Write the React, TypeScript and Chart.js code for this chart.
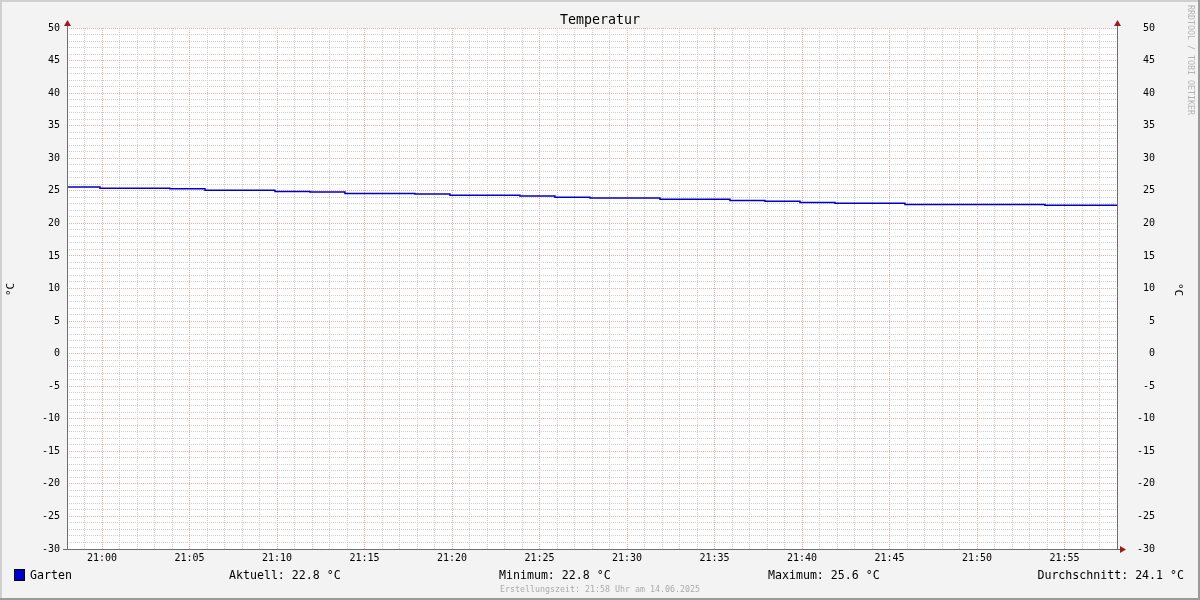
import React, { useEffect, useRef } from "react";
import { Chart, registerables } from "chart.js";

Chart.register(...registerables);

// ---- data ----
const TITLE = "Temperatur";
const SERIES_NAME = "Garten";
const UNIT = "°C";
// start times of each 2-minute sample interval
const SAMPLE_TIMES = [
  "20:58", "21:00", "21:02", "21:04", "21:06", "21:08", "21:10", "21:12", "21:14", "21:16",
  "21:18", "21:20", "21:22", "21:24", "21:26", "21:28", "21:30", "21:32", "21:34", "21:36",
  "21:38", "21:40", "21:42", "21:44", "21:46", "21:48", "21:50", "21:52", "21:54", "21:56",
];
const TEMPS = [
  25.6, 25.4, 25.4, 25.3, 25.1, 25.1, 24.9, 24.8, 24.6, 24.6,
  24.5, 24.3, 24.3, 24.2, 24.0, 23.9, 23.9, 23.7, 23.7, 23.5,
  23.4, 23.2, 23.1, 23.1, 22.9, 22.9, 22.9, 22.9, 22.8, 22.8,
];
const X_START = "20:58:07";
const X_END = "21:58:07";
const Y_MIN = -30;
const Y_MAX = 50;
const STAT_TEXTS = ["Aktuell: 22.8 °C", "Minimum: 22.8 °C", "Maximum: 25.6 °C", "Durchschnitt: 24.1 °C"];
const FOOTER = "Erstellungszeit: 21:58 Uhr am 14.06.2025";
const WATERMARK = "RRDTOOL / TOBI OETIKER";

const BASE_MIN = 21 * 60; // 21:00 reference
const toMin = (s: string) => {
  const p = s.split(":").map(Number);
  return p[0] * 60 + p[1] + (p[2] || 0) / 60 - BASE_MIN;
};
const fmtMin = (m: number) => {
  const t = Math.round(m) + BASE_MIN;
  const h = Math.floor(t / 60);
  const mm = t % 60;
  return `${String(h).padStart(2, "0")}:${String(mm).padStart(2, "0")}`;
};

const MONO = "'DejaVu Sans Mono', monospace";

const rrdPlugin = {
  id: "rrdDecor",
  beforeDraw(chart: any) {
    const { ctx, width, height, chartArea: a } = chart;
    ctx.save();
    ctx.fillStyle = "#f3f3f3";
    ctx.fillRect(0, 0, width, height);
    ctx.fillStyle = "#cfcfcf";
    ctx.fillRect(0, 0, width, 2);
    ctx.fillRect(0, 0, 2, height);
    ctx.fillStyle = "#9a9a9a";
    ctx.fillRect(0, height - 2, width, 2);
    ctx.fillRect(width - 2, 0, 2, height);
    ctx.fillStyle = "#ffffff";
    ctx.fillRect(a.left, a.top, a.right - a.left, a.bottom - a.top);
    ctx.restore();
  },
  afterDraw(chart: any) {
    const { ctx, width, chartArea: a } = chart;
    ctx.save();
    ctx.strokeStyle = "#6e6e6e";
    ctx.lineWidth = 1;
    ctx.beginPath();
    ctx.moveTo(a.left + 0.5, a.top - 2);
    ctx.lineTo(a.left + 0.5, a.bottom + 0.5);
    ctx.moveTo(a.right + 0.5, a.top - 2);
    ctx.lineTo(a.right + 0.5, a.bottom + 0.5);
    ctx.moveTo(a.left - 4, a.bottom + 0.5);
    ctx.lineTo(a.right + 3, a.bottom + 0.5);
    ctx.stroke();
    ctx.fillStyle = "#9b1c1c";
    const up = (x: number) => {
      ctx.beginPath();
      ctx.moveTo(x - 3, a.top - 2);
      ctx.lineTo(x + 4, a.top - 2);
      ctx.lineTo(x + 0.5, a.top - 8);
      ctx.closePath();
      ctx.fill();
    };
    up(a.left);
    up(a.right);
    ctx.beginPath();
    ctx.moveTo(a.right + 3, a.bottom - 3);
    ctx.lineTo(a.right + 3, a.bottom + 4);
    ctx.lineTo(a.right + 9, a.bottom + 0.5);
    ctx.closePath();
    ctx.fill();

    ctx.fillStyle = "#000";
    ctx.textBaseline = "middle";
    ctx.textAlign = "center";
    ctx.font = `13.3px ${MONO}`;
    ctx.fillText(TITLE, width / 2, 21);

    ctx.font = `11px ${MONO}`;
    ctx.save();
    ctx.translate(11, (a.top + a.bottom) / 2 + 1);
    ctx.rotate(-Math.PI / 2);
    ctx.fillText(UNIT, 0, 0);
    ctx.restore();
    ctx.save();
    ctx.translate(1178, (a.top + a.bottom) / 2 + 1);
    ctx.rotate(Math.PI / 2);
    ctx.fillText(UNIT, 0, 0);
    ctx.restore();

    ctx.save();
    ctx.fillStyle = "#b4b4b4";
    ctx.font = `8.3px ${MONO}`;
    ctx.translate(1190, 5);
    ctx.rotate(Math.PI / 2);
    ctx.textAlign = "left";
    ctx.fillText(WATERMARK, 0, 0);
    ctx.restore();

    const ly = 576;
    ctx.fillStyle = "#0000cc";
    ctx.fillRect(15, 570, 9, 10);
    ctx.strokeStyle = "#000";
    ctx.strokeRect(14.5, 569.5, 10, 11);
    ctx.fillStyle = "#000";
    ctx.font = `11.6px ${MONO}`;
    ctx.textAlign = "left";
    ctx.fillText(SERIES_NAME, 30, ly);
    const xs = [229, 499, 768];
    STAT_TEXTS.slice(0, 3).forEach((t, i) => ctx.fillText(t, xs[i], ly));
    ctx.textAlign = "right";
    ctx.fillText(STAT_TEXTS[3], 1184, ly);

    ctx.fillStyle = "#aaaaaa";
    ctx.textAlign = "center";
    ctx.font = `8.3px ${MONO}`;
    ctx.fillText(FOOTER, 600, 590);
    ctx.restore();
  },
};

const gridColor = (major: boolean) => (major ? "#eeaaaa" : "#cfcfcf");

export default function App() {
  const ref = useRef<HTMLCanvasElement | null>(null);

  useEffect(() => {
    if (!ref.current) return;
    const points = SAMPLE_TIMES.map((t, i) => ({ x: toMin(t), y: TEMPS[i] }));
    // hold the last value until the end of the window
    points.push({ x: toMin(X_END), y: TEMPS[TEMPS.length - 1] });
    const chart = new Chart(ref.current, {
      type: "line",
      data: {
        datasets: [
          {
            label: SERIES_NAME,
            data: points,
            borderColor: "#0000cc",
            borderWidth: 1.5,
            pointRadius: 0,
            stepped: "before",
            fill: false,
          },
        ],
      },
      options: {
        responsive: false,
        animation: false,
        events: [],
        layout: { padding: { top: 28, left: 0, right: 45, bottom: 0 } },
        plugins: { legend: { display: false }, title: { display: false }, tooltip: { enabled: false } },
        scales: {
          x: {
            type: "linear",
            min: toMin(X_START),
            max: toMin(X_END),
            afterFit: (s: any) => { s.height = 51; },
            ticks: {
              stepSize: 1,
              includeBounds: false,
              autoSkip: false,
              maxRotation: 0,
              minRotation: 0,
              padding: 3,
              color: "#000",
              font: { family: MONO, size: 10 },
              callback: (v: any) => (Math.round(v) % 5 === 0 ? fmtMin(v) : ""),
            },
            grid: {
              drawTicks: false,
              color: (c: any) => gridColor(Math.round(c.tick?.value ?? 1) % 5 === 0),
              lineWidth: 1,
            },
            border: { display: false, dash: [1, 1] },
          },
          y: {
            type: "linear",
            position: "left",
            min: Y_MIN,
            max: Y_MAX,
            afterFit: (s: any) => { s.width = 67; },
            ticks: {
              stepSize: 1,
              autoSkip: false,
              padding: 7,
              color: "#000",
              font: { family: MONO, size: 10 },
              callback: (v: any) => (Math.round(v) % 5 === 0 ? String(Math.round(v)) : ""),
            },
            grid: {
              drawTicks: false,
              color: (c: any) => gridColor(Math.round(c.tick?.value ?? 1) % 5 === 0),
              lineWidth: 1,
            },
            border: { display: false, dash: [1, 1] },
          },
          y2: {
            type: "linear",
            position: "right",
            min: Y_MIN,
            max: Y_MAX,
            afterFit: (s: any) => { s.width = 38; },
            ticks: {
              stepSize: 1,
              autoSkip: false,
              padding: 20,
              crossAlign: "far",
              color: "#000",
              font: { family: MONO, size: 10 },
              callback: (v: any) => (Math.round(v) % 5 === 0 ? String(Math.round(v)) : ""),
            },
            grid: { display: false, drawTicks: false },
            border: { display: false },
          },
        },
      } as any,
      plugins: [rrdPlugin],
    });
    return () => chart.destroy();
  }, []);

  return (
    <div style={{ position: "fixed", left: 0, top: 0, width: 1200, height: 600 }}>
      <canvas ref={ref} width={1200} height={600} style={{ width: 1200, height: 600, display: "block" }} />
    </div>
  );
}
